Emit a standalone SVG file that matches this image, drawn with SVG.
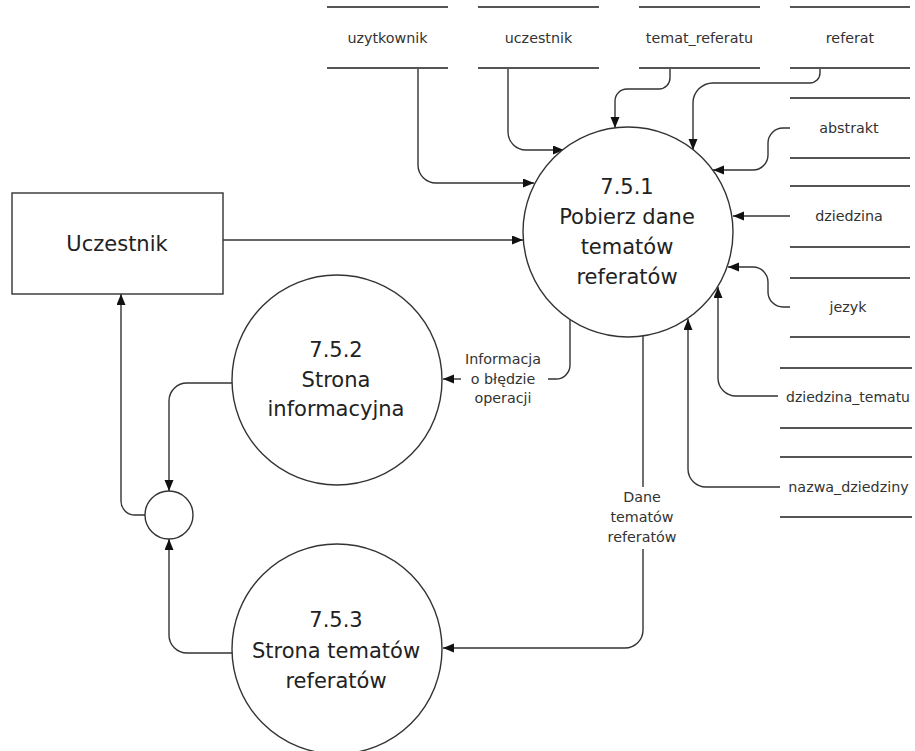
<svg xmlns="http://www.w3.org/2000/svg" width="915" height="751" viewBox="0 0 915 751">
<style>
.bg{fill:#fff}
.node{fill:#fff;stroke:#333;stroke-width:1.4}
.store{stroke:#555;stroke-width:2;fill:none}
.conn{fill:none;stroke:#333;stroke-width:1.4}
.big{font-family:"DejaVu Sans",Verdana,sans-serif;font-size:21px;fill:#222;text-anchor:middle}
.small{font-family:"DejaVu Sans",Verdana,sans-serif;font-size:14.3px;fill:#333;text-anchor:middle}
</style>
<defs>
<marker id="arr" markerUnits="userSpaceOnUse" markerWidth="12" markerHeight="10" refX="11" refY="4.5" orient="auto">
<path d="M0,0 L11,4.5 L0,9 z" fill="#111"/>
</marker>
</defs>
<rect class="bg" x="0" y="0" width="915" height="751"/>

<g id="connectors">
<path class="conn" d="M418,68 V165 A18,18 0 0 0 436,183 H534" marker-end="url(#arr)"/>
<path class="conn" d="M508,68 V132 A18,18 0 0 0 526,150 H564" marker-end="url(#arr)"/>
<path class="conn" d="M670,68 V78 A11,11 0 0 1 659,89 H627 A12,12 0 0 0 615,101 V128" marker-end="url(#arr)"/>
<path class="conn" d="M820,68 V73 A10,10 0 0 1 810,83 H713 A20,20 0 0 0 693,103 V150" marker-end="url(#arr)"/>
<path class="conn" d="M790,128 H783 A15,15 0 0 0 768,143 V155 A15,15 0 0 1 753,170 H713" marker-end="url(#arr)"/>
<path class="conn" d="M790,216 H733" marker-end="url(#arr)"/>
<path class="conn" d="M790,307 H783 A15,15 0 0 1 768,292 V282 A15,15 0 0 0 753,267 H728" marker-end="url(#arr)"/>
<path class="conn" d="M778,396 H736 A18,18 0 0 1 718,378 V287" marker-end="url(#arr)"/>
<path class="conn" d="M780,487 H706 A18,18 0 0 1 688,469 V319" marker-end="url(#arr)"/>
<path class="conn" d="M223,240 H523" marker-end="url(#arr)"/>
<path class="conn" d="M570,320 V365 A14,14 0 0 1 556,379 H548"/>
<path class="conn" d="M461,379 H443" marker-end="url(#arr)"/>
<path class="conn" d="M232,383 H187 A18,18 0 0 0 169,401 V491" marker-end="url(#arr)"/>
<path class="conn" d="M145,515 H135 A14,14 0 0 1 121,501 V294" marker-end="url(#arr)"/>
<path class="conn" d="M232,653 H187 A18,18 0 0 1 169,635 V539" marker-end="url(#arr)"/>
<path class="conn" d="M643,336 V487"/>
<path class="conn" d="M643,549 V630 A18,18 0 0 1 625,648 H443" marker-end="url(#arr)"/>
<text class="small" x="503" y="364">Informacja</text>
<text class="small" x="503" y="384">o błędzie</text>
<text class="small" x="503" y="403">operacji</text>
<text class="small" x="642" y="502">Dane</text>
<text class="small" x="642" y="522">tematów</text>
<text class="small" x="642" y="542">referatów</text>
</g>

<g id="store-uzytkownik">
<path class="store" d="M327,7 H448 M327,68 H448"/>
<text class="small" x="387.5" y="43">uzytkownik</text>
</g>
<g id="store-uczestnik">
<path class="store" d="M478,7 H599 M478,68 H599"/>
<text class="small" x="538.5" y="43">uczestnik</text>
</g>
<g id="store-temat_referatu">
<path class="store" d="M639,7 H760 M639,68 H760"/>
<text class="small" x="699.5" y="43">temat_referatu</text>
</g>
<g id="store-referat">
<path class="store" d="M790,7 H910 M790,68 H910"/>
<text class="small" x="850" y="43">referat</text>
</g>
<g id="store-abstrakt">
<path class="store" d="M790,98 H910 M790,158 H910"/>
<text class="small" x="849" y="133">abstrakt</text>
</g>
<g id="store-dziedzina">
<path class="store" d="M790,186 H910 M790,247 H910"/>
<text class="small" x="849" y="221">dziedzina</text>
</g>
<g id="store-jezyk">
<path class="store" d="M790,278 H910 M790,337 H910"/>
<text class="small" x="848" y="312">jezyk</text>
</g>
<g id="store-dziedzina_tematu">
<path class="store" d="M780,368 H912 M780,428 H912"/>
<text class="small" x="848" y="402" style="font-size:14px">dziedzina_tematu</text>
</g>
<g id="store-nazwa_dziedziny">
<path class="store" d="M780,457 H912 M780,517 H912"/>
<text class="small" x="848.5" y="492">nazwa_dziedziny</text>
</g>

<g id="uczestnik">
<rect class="node" x="12" y="193" width="211" height="101"/>
<text class="big" x="117" y="251">Uczestnik</text>
</g>

<g id="p751">
<circle class="node" cx="628" cy="232" r="105"/>
<text class="big" x="627" y="194">7.5.1</text>
<text class="big" x="627" y="224">Pobierz dane</text>
<text class="big" x="627" y="254">tematów</text>
<text class="big" x="627" y="284">referatów</text>
</g>

<g id="p752">
<circle class="node" cx="337" cy="380" r="105"/>
<text class="big" x="336" y="357">7.5.2</text>
<text class="big" x="336" y="387">Strona</text>
<text class="big" x="336" y="416">informacyjna</text>
</g>

<g id="p753">
<circle class="node" cx="337" cy="649" r="105"/>
<text class="big" x="336" y="627">7.5.3</text>
<text class="big" x="336" y="658">Strona tematów</text>
<text class="big" x="336" y="688">referatów</text>
</g>

<g id="junction">
<circle class="node" cx="169" cy="515" r="24"/>
</g>
</svg>
